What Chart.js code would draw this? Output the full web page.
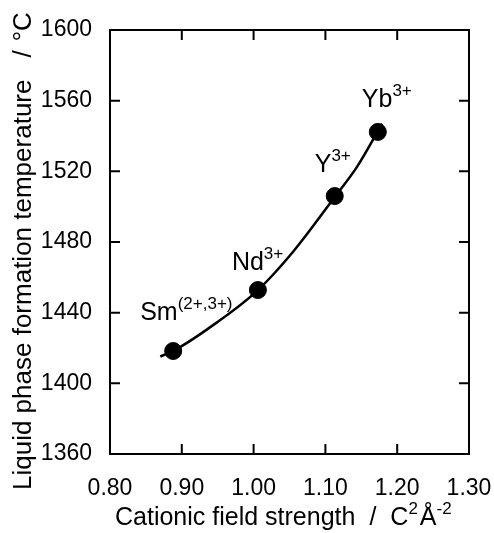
<!DOCTYPE html>
<html lang="en">
<head>
    <meta charset="UTF-8">
    <title>Liquid phase formation temperature</title>
    <script src="https://cdn.jsdelivr.net/npm/chart.js"></script>
    <style>
        html, body { margin: 0; padding: 0; background: #fff; }
        #wrap { width: 494px; height: 533px; }
    </style>
</head>
<body>
    <div id="wrap">
        <canvas id="myChart" width="494" height="533"></canvas>
    </div>

    <script>
        // measured points
        const ionNames = ['Sm', 'Nd', 'Y', 'Yb'];
        const ionCharges = ['(2+,3+)', '3+', '3+', '3+'];
        const fieldStrength = [0.888, 1.006, 1.113, 1.173];
        const liquidTemp = [1418.3, 1452.8, 1506.0, 1542.3];

        // fitted curve
        const fitX = [0.870, 0.888, 0.949, 1.006, 1.055, 1.113, 1.144, 1.179];
        const fitY = [1415.2, 1418.3, 1434.5, 1452.8, 1474.5, 1505.5, 1522.5, 1547.0];

        // axes
        const xTicks = [0.80, 0.90, 1.00, 1.10, 1.20, 1.30];
        const yTicks = [1360, 1400, 1440, 1480, 1520, 1560, 1600];

        // label offsets from each point (px)
        const labelDx = [-33, -26, -20, -16];
        const labelDy = [-31, -20, -24, -25];

        const FONT = '"Liberation Sans", Arial, Helvetica, sans-serif';

        // draw base text + superscript, returns end x
        function supText(ctx, x, y, base, sup, size, supSize, rise) {
            ctx.font = size + 'px ' + FONT;
            ctx.fillText(base, x, y);
            x += ctx.measureText(base).width;
            if (sup) {
                ctx.font = supSize + 'px ' + FONT;
                ctx.fillText(sup, x, y - rise);
                x += ctx.measureText(sup).width;
            }
            return x;
        }

        const framePlugin = {
            id: 'frame',
            afterDraw(chart) {
                const ctx = chart.ctx;
                const a = chart.chartArea;
                const xs = chart.scales.x, ys = chart.scales.y;
                ctx.save();
                ctx.strokeStyle = '#000';
                ctx.lineWidth = 2;
                ctx.strokeRect(a.left, a.top, a.right - a.left, a.bottom - a.top);
                ctx.beginPath();
                xTicks.forEach(v => {
                    const px = xs.getPixelForValue(v);
                    ctx.moveTo(px, a.bottom); ctx.lineTo(px, a.bottom - 10);
                    ctx.moveTo(px, a.top); ctx.lineTo(px, a.top + 10);
                });
                yTicks.forEach(v => {
                    const py = ys.getPixelForValue(v);
                    ctx.moveTo(a.left, py); ctx.lineTo(a.left + 10, py);
                    ctx.moveTo(a.right, py); ctx.lineTo(a.right - 10, py);
                });
                ctx.stroke();

                // point labels
                ctx.fillStyle = '#000';
                ctx.textBaseline = 'alphabetic';
                ctx.textAlign = 'left';
                ionNames.forEach((n, i) => {
                    const px = xs.getPixelForValue(fieldStrength[i]) + labelDx[i];
                    const py = ys.getPixelForValue(liquidTemp[i]) + labelDy[i];
                    supText(ctx, px, py, n, ionCharges[i], 25, 17, 11);
                });

                // x title
                let x = 115;
                const y = 525;
                ctx.font = '25px ' + FONT;
                ctx.fillText('Cationic field strength', x, y);
                x += ctx.measureText('Cationic field strength').width + 14;
                ctx.fillText('/', x, y);
                x += ctx.measureText('/').width + 14;
                x = supText(ctx, x, y, 'C', '2', 25, 17, 11);
                supText(ctx, x + 2, y, 'Å', '-2', 25, 17, 11);

                // y title
                ctx.translate(31, 490);
                ctx.rotate(-Math.PI / 2);
                ctx.font = '26px ' + FONT;
                let t = 0;
                ctx.fillText('Liquid phase formation temperature', 0, 0);
                t += ctx.measureText('Liquid phase formation temperature').width + 22;
                ctx.fillText('/', t, 0);
                t += ctx.measureText('/').width + 9;
                ctx.fillText('°C', t, 0);
                ctx.restore();
            }
        };

        const ctx = document.getElementById('myChart').getContext('2d');
        const chart = new Chart(ctx, {
            type: 'scatter',
            data: {
                datasets: [{
                    label: 'fit',
                    data: fitX.map((v, i) => ({ x: v, y: fitY[i] })),
                    showLine: true,
                    borderColor: '#000',
                    borderWidth: 2.5,
                    pointRadius: 0,
                    cubicInterpolationMode: 'monotone',
                    fill: false
                }, {
                    label: 'measured',
                    data: fieldStrength.map((v, i) => ({ x: v, y: liquidTemp[i] })),
                    backgroundColor: '#000',
                    borderColor: '#000',
                    pointRadius: 8.5,
                    pointHoverRadius: 8.5
                }]
            },
            options: {
                responsive: false,
                animation: false,
                layout: { padding: { left: 0, top: 30, right: 25, bottom: 0 } },
                plugins: {
                    legend: { display: false },
                    tooltip: { enabled: false }
                },
                scales: {
                    x: {
                        type: 'linear',
                        min: 0.8, max: 1.3,
                        afterBuildTicks: s => { s.ticks = xTicks.map(v => ({ value: v })); },
                        afterFit: s => { s.height = 79; s.paddingLeft = 0; s.paddingRight = 0; },
                        grid: { display: false },
                        border: { display: false },
                        ticks: {
                            color: '#000',
                            padding: 13,
                            maxRotation: 0,
                            font: { family: FONT, size: 23 },
                            callback: v => v.toFixed(2)
                        }
                    },
                    y: {
                        min: 1360, max: 1600,
                        afterBuildTicks: s => { s.ticks = yTicks.map(v => ({ value: v })); },
                        afterFit: s => { s.width = 110; s.paddingTop = 0; s.paddingBottom = 0; },
                        grid: { display: false },
                        border: { display: false },
                        ticks: {
                            color: '#000',
                            padding: 10,
                            font: { family: FONT, size: 23 },
                            callback: v => String(v)
                        }
                    }
                }
            },
            plugins: [framePlugin]
        });
    </script>
</body>
</html>
